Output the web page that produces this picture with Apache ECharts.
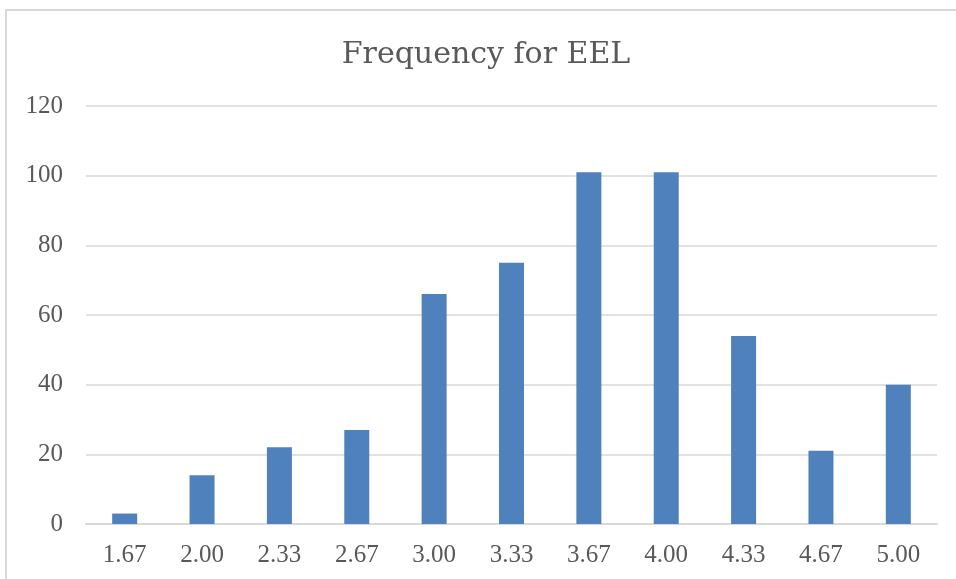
<!DOCTYPE html>
<html>
<head>
<meta charset="utf-8">
<style>
  html, body { margin: 0; padding: 0; background: #ffffff; }
  #chart { width: 956px; height: 579px; }
</style>
<script src="https://cdn.jsdelivr.net/npm/echarts@6/dist/echarts.min.js"></script>
</head>
<body>
<div id="chart"></div>
<script>
// Score bins and how many responses fell in each
const categories = ['1.67', '2.00', '2.33', '2.67', '3.00', '3.33', '3.67', '4.00', '4.33', '4.67', '5.00'];
const frequency = [3, 14, 22, 27, 66, 75, 101, 101, 54, 21, 40];
const yTicks = { min: 0, max: 120, interval: 20 };
const chartTitle = 'Frequency for EEL';

const textColor = '#595959';
const gridColor = '#d9d9d9';
const barColor = '#4f81bd';

const chart = echarts.init(document.getElementById('chart'), null, { renderer: 'canvas' });

chart.setOption({
  animation: false,
  backgroundColor: '#ffffff',
  graphic: [
    {
      // outer chart frame
      type: 'rect',
      shape: { x: 6, y: 10, width: 1200, height: 1200 },
      style: { fill: 'none', stroke: gridColor, lineWidth: 2 },
      silent: true
    },
    {
      type: 'text',
      x: 486,
      y: 55,
      style: {
        text: chartTitle,
        fill: textColor,
        font: '30px "DejaVu Serif"',
        textAlign: 'center',
        textVerticalAlign: 'middle'
      }
    }
  ],
  grid: { left: 86, right: 19, top: 106, bottom: 55, containLabel: false },
  xAxis: {
    type: 'category',
    data: categories,
    axisLine: { show: true, lineStyle: { color: gridColor, width: 2 } },
    axisTick: { show: false },
    axisLabel: {
      color: textColor,
      fontFamily: 'Liberation Serif',
      fontSize: 25,
      margin: 19
    }
  },
  yAxis: {
    type: 'value',
    min: yTicks.min,
    max: yTicks.max,
    interval: yTicks.interval,
    axisLine: { show: false },
    axisTick: { show: false },
    axisLabel: {
      color: textColor,
      fontFamily: 'Liberation Serif',
      fontSize: 25,
      margin: 23
    },
    splitLine: { lineStyle: { color: gridColor, width: 1.5 } }
  },
  series: [
    {
      type: 'bar',
      data: frequency,
      barWidth: 25,
      itemStyle: { color: barColor },
      silent: true
    }
  ]
});
</script>
</body>
</html>
